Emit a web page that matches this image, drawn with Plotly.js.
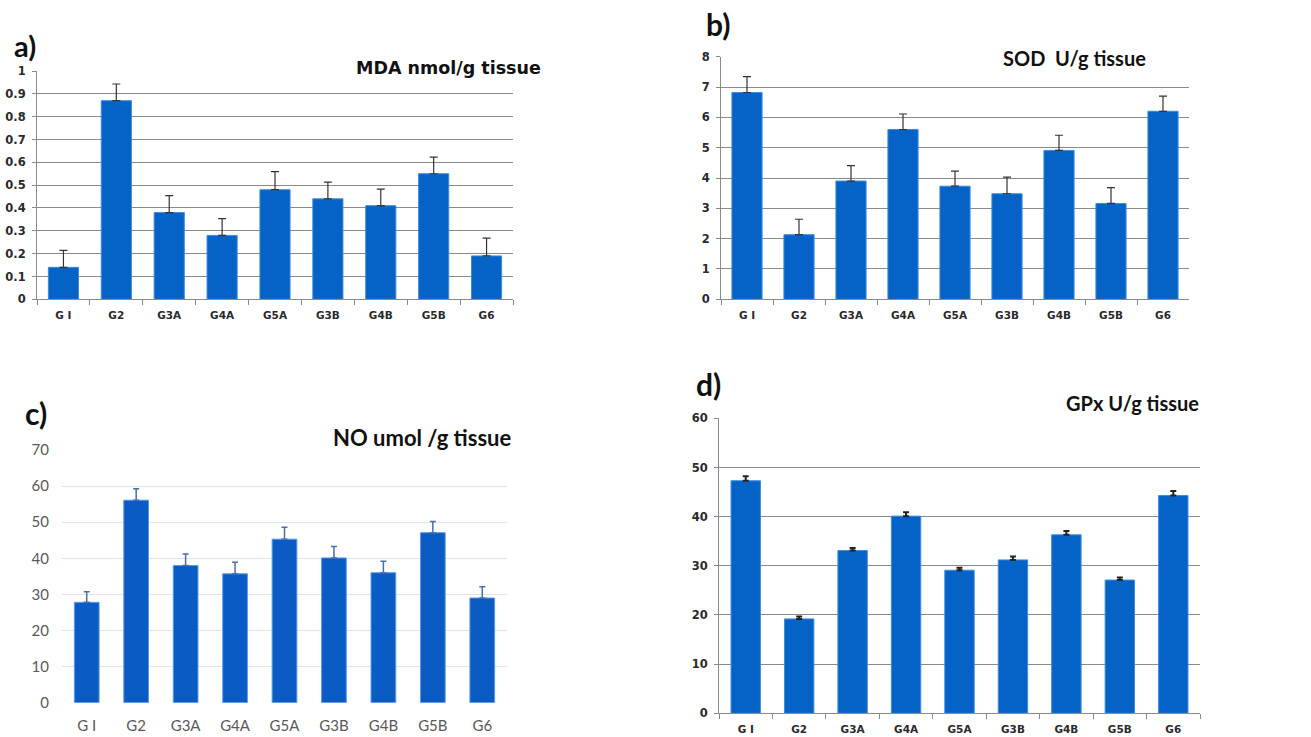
<!DOCTYPE html>
<html>
<head>
<meta charset="utf-8">
<script src="https://cdn.plot.ly/plotly-3.0.1.min.js"></script>
<style>html,body{margin:0;padding:0;background:#fff;}#chart{width:1311px;height:737px;}</style>
</head>
<body>
<div id="chart"></div>
<script>
const groups = ["G I", "G2", "G3A", "G4A", "G5A", "G3B", "G4B", "G5B", "G6"];

const mdaValues = [0.14, 0.87, 0.38, 0.28, 0.48, 0.44, 0.41, 0.55, 0.19];
const mdaErrors = [0.074, 0.073, 0.074, 0.073, 0.079, 0.073, 0.073, 0.073, 0.078];

const sodValues = [6.82, 2.13, 3.90, 5.60, 3.73, 3.48, 4.91, 3.16, 6.20];
const sodErrors = [0.52, 0.51, 0.51, 0.51, 0.50, 0.55, 0.50, 0.52, 0.50];

const noValues = [27.8, 56.1, 38.0, 35.7, 45.3, 40.1, 36.0, 47.1, 29.0];
const noErrors = [2.9, 3.2, 3.2, 3.2, 3.3, 3.2, 3.2, 3.1, 3.1];

const gpxValues = [47.3, 19.2, 33.1, 40.1, 29.1, 31.2, 36.3, 27.1, 44.3];
const gpxErrors = [0.9, 0.5, 0.5, 0.8, 0.5, 0.7, 0.8, 0.5, 0.9];

const W = 1311, H = 737;
const px = v => v / W;
const py = v => 1 - v / H;

const excelBlue = '#0563c8';
function barTrace(vals, errs, xa, ya, color, errColor, capW, thick, lineColor, barW) {
  return {
    type: 'bar', x: groups, y: vals, xaxis: xa, yaxis: ya, width: barW,
    marker: {color: color, line: {color: lineColor, width: 1}},
    error_y: {type: 'data', symmetric: false, array: errs, arrayminus: errs.map(() => 0),
              color: errColor, thickness: thick, width: capW},
    showlegend: false, hoverinfo: 'x+y'
  };
}

const data = [
  barTrace(mdaValues, mdaErrors, 'x', 'y', excelBlue, '#333333', 4, 1.2, '#3d8be0', 0.57),
  barTrace(sodValues, sodErrors, 'x2', 'y2', excelBlue, '#333333', 4, 1.2, '#3d8be0', 0.58),
  barTrace(noValues, noErrors, 'x3', 'y3', '#0a5cc4', '#4a6ea8', 3, 1.5, '#5a9ae6', 0.5),
  barTrace(gpxValues, gpxErrors, 'x4', 'y4', excelBlue, '#222222', 3, 2, '#3d8be0', 0.55)
];

const WIDE = '"DejaVu Sans", Verdana, sans-serif';
const LATO = 'Lato, "Open Sans", sans-serif';
const yTick = {family: WIDE, size: 11.5, color: '#2a2a2a', weight: 'bold'};
const xTick = {family: WIDE, size: 10.5, color: '#2a2a2a', weight: 'bold'};
const grayGrid = '#8a8a8a';

function excelX(domain, anchor) {
  return {domain: domain, anchor: anchor, type: 'category', showline: true, linecolor: grayGrid, linewidth: 1,
          ticks: 'outside', ticklen: 5, tickcolor: grayGrid, tickson: 'boundaries', ticklabelstandoff: 6,
          tickfont: xTick, showgrid: false, zeroline: false, fixedrange: true};
}
function excelY(domain, anchor, range, dtick) {
  return {domain: domain, anchor: anchor, range: range, dtick: dtick, showline: true, linecolor: grayGrid, linewidth: 1,
          ticks: 'outside', ticklen: 4, tickcolor: grayGrid, showgrid: true, gridcolor: grayGrid, gridwidth: 1,
          zeroline: false, tickfont: yTick, ticklabelstandoff: 4, fixedrange: true};
}

const layout = {
  width: W, height: H,
  margin: {l: 0, r: 0, t: 0, b: 0},
  paper_bgcolor: '#ffffff', plot_bgcolor: 'rgba(0,0,0,0)',
  font: {family: LATO},
  xaxis: excelX([px(37), px(513)], 'y'),
  yaxis: excelY([py(299.3), py(71)], 'x', [0, 1], 0.1),
  xaxis2: excelX([px(721), px(1189)], 'y2'),
  yaxis2: excelY([py(299.3), py(56.7)], 'x2', [0, 8], 1),
  xaxis3: {domain: [px(62), px(507)], anchor: 'y3', type: 'category', showline: false, ticks: '',
           ticklabelstandoff: 12,
           tickfont: {family: LATO, size: 15, color: '#595959'},
           showgrid: false, zeroline: false, fixedrange: true},
  yaxis3: {domain: [py(702.7), py(450)], anchor: 'x3', range: [0, 70], dtick: 10, showline: false, ticks: '',
           showgrid: true, gridcolor: '#dfe4ec', gridwidth: 1.2, zeroline: false,
           tickfont: {family: LATO, size: 15, color: '#595959'},
           ticklabelstandoff: 12, fixedrange: true},
  xaxis4: excelX([px(719), px(1200)], 'y4'),
  yaxis4: excelY([py(713.3), py(418.3)], 'x4', [0, 60], 10),
  annotations: [
    {text: 'a)', xref: 'paper', yref: 'paper', x: px(12), y: py(45), xanchor: 'left', yanchor: 'middle', showarrow: false,
     font: {family: LATO, size: 29, color: '#111', weight: 'bold'}},
    {text: 'MDA nmol/g tissue', xref: 'paper', yref: 'paper', x: px(544), y: py(68), xanchor: 'right', yanchor: 'middle', showarrow: false,
     bgcolor: '#ffffff', borderpad: 2, font: {family: WIDE, size: 17.5, color: '#111', weight: 'bold'}},
    {text: 'b)', xref: 'paper', yref: 'paper', x: px(704), y: py(24), xanchor: 'left', yanchor: 'middle', showarrow: false,
     font: {family: LATO, size: 30, color: '#111', weight: 'bold'}},
    {text: 'SOD&nbsp;&nbsp;U/g tissue', xref: 'paper', yref: 'paper', x: px(1148), y: py(58), xanchor: 'right', yanchor: 'middle', showarrow: false,
     font: {family: LATO, size: 20, color: '#111', weight: 'bold'}},
    {text: 'c)', xref: 'paper', yref: 'paper', x: px(23), y: py(413), xanchor: 'left', yanchor: 'middle', showarrow: false,
     font: {family: LATO, size: 30, color: '#111', weight: 'bold'}},
    {text: 'NO umol /g tissue', xref: 'paper', yref: 'paper', x: px(514), y: py(437), xanchor: 'right', yanchor: 'middle', showarrow: false,
     font: {family: LATO, size: 22, color: '#111', weight: 'bold'}},
    {text: 'd)', xref: 'paper', yref: 'paper', x: px(694), y: py(384), xanchor: 'left', yanchor: 'middle', showarrow: false,
     font: {family: LATO, size: 30, color: '#111', weight: 'bold'}},
    {text: 'GPx U/g tissue', xref: 'paper', yref: 'paper', x: px(1201), y: py(403), xanchor: 'right', yanchor: 'middle', showarrow: false,
     font: {family: LATO, size: 20, color: '#111', weight: 'bold'}}
  ]
};

Plotly.newPlot('chart', data, layout, {displayModeBar: false, staticPlot: true});
</script>
</body>
</html>
